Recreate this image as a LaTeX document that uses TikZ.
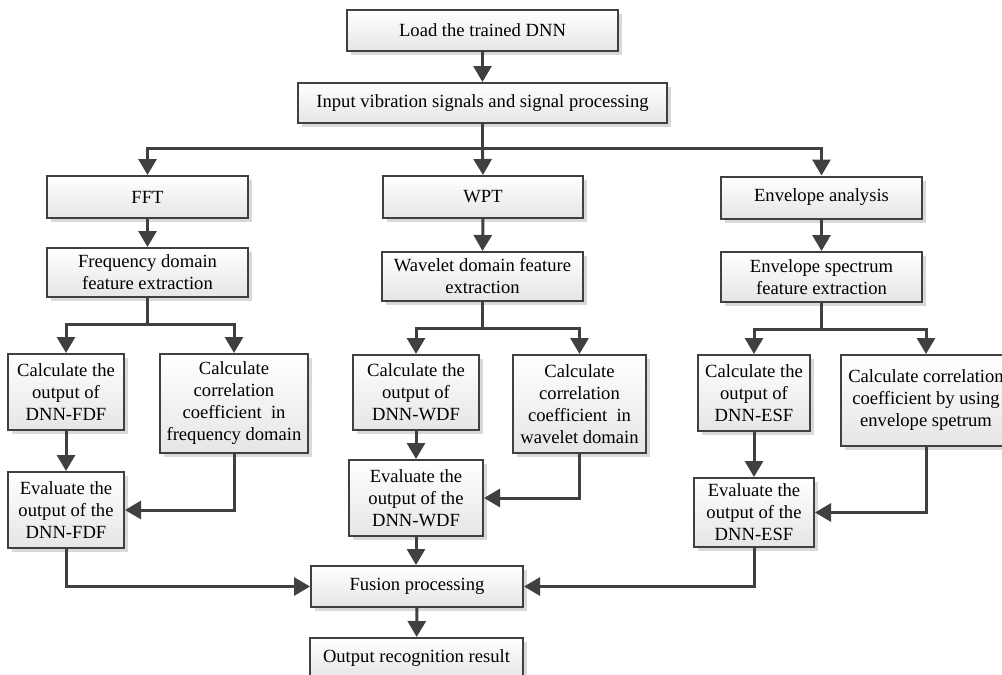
\documentclass[tikz,border=0pt]{standalone}
\usepackage{fontspec}
\setmainfont{Liberation Serif}
\usetikzlibrary{arrows.meta,shadows,positioning}
\definecolor{lc}{HTML}{404040}
\tikzset{
  box/.style={draw=lc, line width=2pt, rectangle, inner sep=0pt, align=center,
    top color=white, bottom color=black!10,
    drop shadow={shadow xshift=4pt, shadow yshift=-4pt, fill=black!15, opacity=1},
    font=\fontsize{18.6}{22}\selectfont},
  conn/.style={draw=lc, line width=3pt, -{Triangle[length=16pt,width=18pt]}},
  plain/.style={draw=lc, line width=3pt},
}
\begin{document}
\begin{tikzpicture}[x=1pt,y=-1pt]
\useasboundingbox (0,0) rectangle (1002,675);
% boxes
\node[box, minimum width=271pt, minimum height=41pt] (load) at (482.5,30.5) {Load the trained DNN};
\node[box, minimum width=369pt, minimum height=40pt] (input) at (482.5,103) {Input vibration signals and signal processing};
\node[box, minimum width=201pt, minimum height=42pt] (fft) at (147.5,197) {FFT};
\node[box, minimum width=200pt, minimum height=42pt] (wpt) at (483,197) {WPT};
\node[box, minimum width=201pt, minimum height=42pt] (env) at (821.5,197.5) {Envelope analysis};
\node[box, minimum width=201pt, minimum height=49pt] (freq) at (147.5,272.5) {Frequency domain\\feature extraction};
\node[box, minimum width=201pt, minimum height=49pt] (wave) at (482.5,276.5) {Wavelet domain feature\\extraction};
\node[box, minimum width=201pt, minimum height=50pt] (envs) at (821.5,277) {Envelope spectrum\\feature extraction};
\node[box, minimum width=116pt, minimum height=76pt] (cf) at (66,392) {Calculate the\\output of\\DNN-FDF};
\node[box, minimum width=148pt, minimum height=99pt] (ccf) at (234,403.5) {Calculate\\correlation\\coefficient~ in\\frequency domain};
\node[box, minimum width=126pt, minimum height=75pt] (cw) at (416,392.5) {Calculate the\\output of\\DNN-WDF};
\node[box, minimum width=133pt, minimum height=98pt] (ccw) at (579.5,404) {Calculate\\correlation\\coefficient~ in\\wavelet domain};
\node[box, minimum width=112pt, minimum height=76pt] (ce) at (754,393) {Calculate the\\output of\\DNN-ESF};
\node[box, minimum width=170pt, minimum height=91pt] (cce) at (926,400.5) {Calculate correlation\\coefficient by using\\envelope spetrum};
\node[box, minimum width=116pt, minimum height=76pt] (ef) at (66,510) {Evaluate the\\output of the\\DNN-FDF};
\node[box, minimum width=134pt, minimum height=76pt] (ew) at (416,498) {Evaluate the\\output of the\\DNN-WDF};
\node[box, minimum width=120pt, minimum height=69pt] (ee) at (754,512.5) {Evaluate the\\output of the\\DNN-ESF};
\node[box, minimum width=212pt, minimum height=41pt] (fus) at (417,586.5) {Fusion processing};
\node[box, minimum width=213pt, minimum height=41pt] (out) at (416.5,658.5) {Output recognition result};
% branch coordinates
\coordinate (b0) at (482.5,148);
\coordinate (b1) at (147.5,324);
\coordinate (b2) at (482.5,328);
\coordinate (b3) at (821.5,329);
% connectors
\draw[conn] (load) -- (input);
\draw[plain] (input.south) -- (b0);
\draw[conn] (b0) -| (fft.north);
\draw[conn] (b0) -- (wpt.north);
\draw[conn] (b0) -| (env.north);
\draw[conn] (fft) -- (freq);
\draw[conn] (wpt.south) -- (wave.north);
\draw[conn] (env) -- (envs);
\draw[plain] (freq.south) -- (b1);
\draw[conn] (b1) -| (cf.north);
\draw[conn] (b1) -| (ccf.north);
\draw[plain] (wave.south) -- (b2);
\draw[conn] (b2) -| (cw.north);
\draw[conn] (b2) -| (ccw.north);
\draw[plain] (envs.south) -- (b3);
\draw[conn] (b3) -| (ce.north);
\draw[conn] (b3) -| (cce.north);
\draw[conn] (cf) -- (ef);
\draw[conn] (ccf.south) |- (ef.east);
\draw[conn] (cw) -- (ew);
\draw[conn] (ccw.south) |- (ew.east);
\draw[conn] (ce) -- (ee);
\draw[conn] (cce.south) |- (ee.east);
\draw[conn] (ef.south) |- (fus.west);
\draw[conn] (ew.south) -- (ew.south |- fus.north);
\draw[conn] (ee.south) |- (fus.east);
\draw[conn] (fus) -- (out);
\end{tikzpicture}
\end{document}
